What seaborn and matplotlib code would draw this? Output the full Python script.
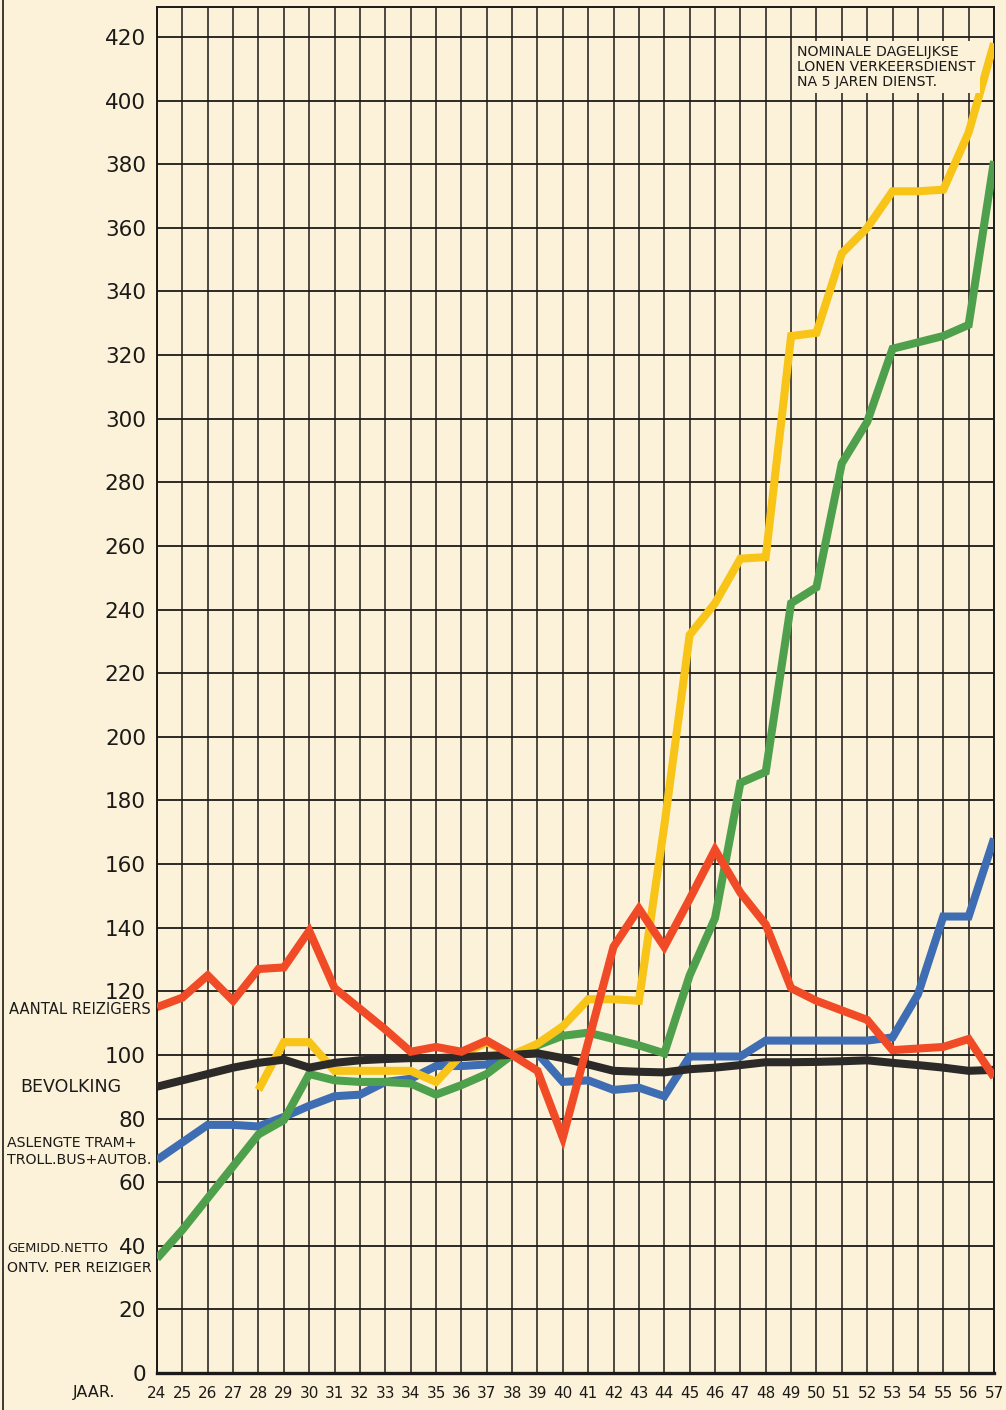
import numpy as np
import pandas as pd
import matplotlib
matplotlib.use("Agg")
import matplotlib.pyplot as plt
from matplotlib.lines import Line2D
import seaborn as sns

# Index figures per year (1938 = 100)
years = list(range(24, 58))

aantal_reizigers = [115, 118, 125, 117, 127, 127.5, 139, 121, 114.5, 108,
                    101, 102.5, 101, 104.5, 100, 95, 74, 104, 134, 146,
                    134, 149, 164.5, 151, 141, 121, 117, 114, 111, 101.5,
                    102, 102.5, 105, 93]

bevolking = [90, 92, 94, 96, 97.5, 98.5, 96, 97.5, 98.3, 98.7,
             99, 99, 99.3, 99.7, 100, 100.5, 99, 97, 95, 94.7,
             94.5, 95.5, 96, 96.8, 97.7, 97.7, 97.8, 98, 98.3, 97.5,
             96.8, 96, 95, 95.3]

aslengte = [67, 72.5, 78, 78, 77.5, 80.5, 84, 87, 87.5, 91.5,
            92.5, 96.5, 96.5, 97, 100, 100.5, 91.5, 92, 89, 89.7,
            87, 99.5, 99.5, 99.5, 104.5, 104.5, 104.5, 104.5, 104.5, 105.5,
            119, 143.5, 143.5, 168]

netto_ontvangst = [36, 45, 55, 65, 75, 79.5, 94, 92, 91.5, 91.5,
                   91, 87.5, 90.5, 94, 100, 103, 106, 107, 105, 103,
                   100.5, 125, 143, 185.5, 189, 242, 247, 286, 299, 322,
                   324, 326, 329.5, 381]

# wage series starts in 1928
lonen_years = list(range(28, 58))
lonen = [89, 104, 104, 95, 95, 95, 95, 91.5, 100, 104,
         100, 103.5, 109, 117.5, 117.5, 117, 172, 232, 242, 256,
         256.5, 326, 327, 352, 360, 371.5, 371.5, 372, 390, 418]

y_ticks = list(range(0, 421, 20))

series_order = ["aslengte", "netto", "lonen", "bevolking", "reizigers"]
series_colors = {
    "aslengte": "#3f6db4",
    "netto": "#4fa04c",
    "lonen": "#f8c417",
    "bevolking": "#2b2a28",
    "reizigers": "#f14a26",
}

frames = [
    pd.DataFrame({"jaar": years, "index": aslengte, "reeks": "aslengte"}),
    pd.DataFrame({"jaar": years, "index": netto_ontvangst, "reeks": "netto"}),
    pd.DataFrame({"jaar": lonen_years, "index": lonen, "reeks": "lonen"}),
    pd.DataFrame({"jaar": years, "index": bevolking, "reeks": "bevolking"}),
    pd.DataFrame({"jaar": years, "index": aantal_reizigers, "reeks": "reizigers"}),
]
df = pd.concat(frames, ignore_index=True)

sns.set_style("white")
paper = "#fcf2d9"
ink = "#1c1a18"
plt.rcParams["font.family"] = ["DejaVu Sans"]

W, H = 1006, 1410
fig = plt.figure(figsize=(W / 100, H / 100), dpi=100, facecolor=paper)


def fx(x):
    return x / W


def fy(y):
    return 1 - y / H


left, right, top, bottom = 157, 994, 7, 1373
ax = fig.add_axes([fx(left), fy(bottom), fx(right - left), (bottom - top) / H])
ax.set_facecolor(paper)

ax.set_xlim(24, 57)
ax.set_ylim(0, (bottom - top) / ((bottom - 37) / 420))

# grid: a line for every year and every 20 index points
for yr in years:
    ax.axvline(yr, color=ink, lw=1.1, zorder=1)
for v in y_ticks:
    ax.axhline(v, color=ink, lw=1.3, zorder=1)

sns.lineplot(data=df, x="jaar", y="index", hue="reeks", hue_order=series_order,
             palette=series_colors, linewidth=5.8, legend=False, ax=ax,
             zorder=3, solid_joinstyle="miter", solid_capstyle="butt")

ax.set_xticks(years)
ax.set_xticklabels([str(y) for y in years], fontsize=11, color=ink)
ax.set_yticks(y_ticks)
ax.set_yticklabels([str(v) for v in y_ticks], fontsize=15.5, color=ink)
ax.tick_params(axis="both", length=0)
ax.tick_params(axis="x", pad=9)
ax.tick_params(axis="y", pad=8)
ax.set_xlabel("")
ax.set_ylabel("")

for side in ["top", "right", "left"]:
    ax.spines[side].set_color(ink)
    ax.spines[side].set_linewidth(1.4)
ax.spines["bottom"].set_color(ink)
ax.spines["bottom"].set_linewidth(2.4)

# series names along the left margin
lab = dict(color=ink, fontsize=10.2, va="center", ha="left")
fig.text(fx(9), fy(1010), "AANTAL REIZIGERS", color=ink, fontsize=10.6,
         va="center", ha="left")
fig.text(fx(20), fy(1087), "BEVOLKING", color=ink, fontsize=12.5, va="center", ha="left")
fig.text(fx(7), fy(1143), "ASLENGTE TRAM+", **lab)
fig.text(fx(7), fy(1160), "TROLL.BUS+AUTOB.", **lab)
fig.text(fx(7), fy(1248), "GEMIDD.NETTO", color=ink, fontsize=9.4,
         va="center", ha="left")
fig.text(fx(7), fy(1268), "ONTV. PER REIZIGER", **lab)
fig.text(fx(94), fy(1392), "JAAR.", color=ink, fontsize=11.5, va="center", ha="center")

# wage series note in the upper right corner
ax.text(fx(797 - left) / fx(right - left), 1 - (67 - top) / (bottom - top),
        "NOMINALE DAGELIJKSE\nLONEN VERKEERSDIENST\nNA 5 JAREN DIENST.",
        transform=ax.transAxes, fontsize=10.2, color=ink, va="center", ha="left",
        linespacing=1.05, zorder=4,
        bbox=dict(facecolor=paper, edgecolor="none", pad=3))

# page edge on the far left
fig.add_artist(Line2D([fx(3), fx(3)], [0, 1], color=ink, lw=1.2))

fig.savefig("out.png", dpi=100, facecolor=paper)
